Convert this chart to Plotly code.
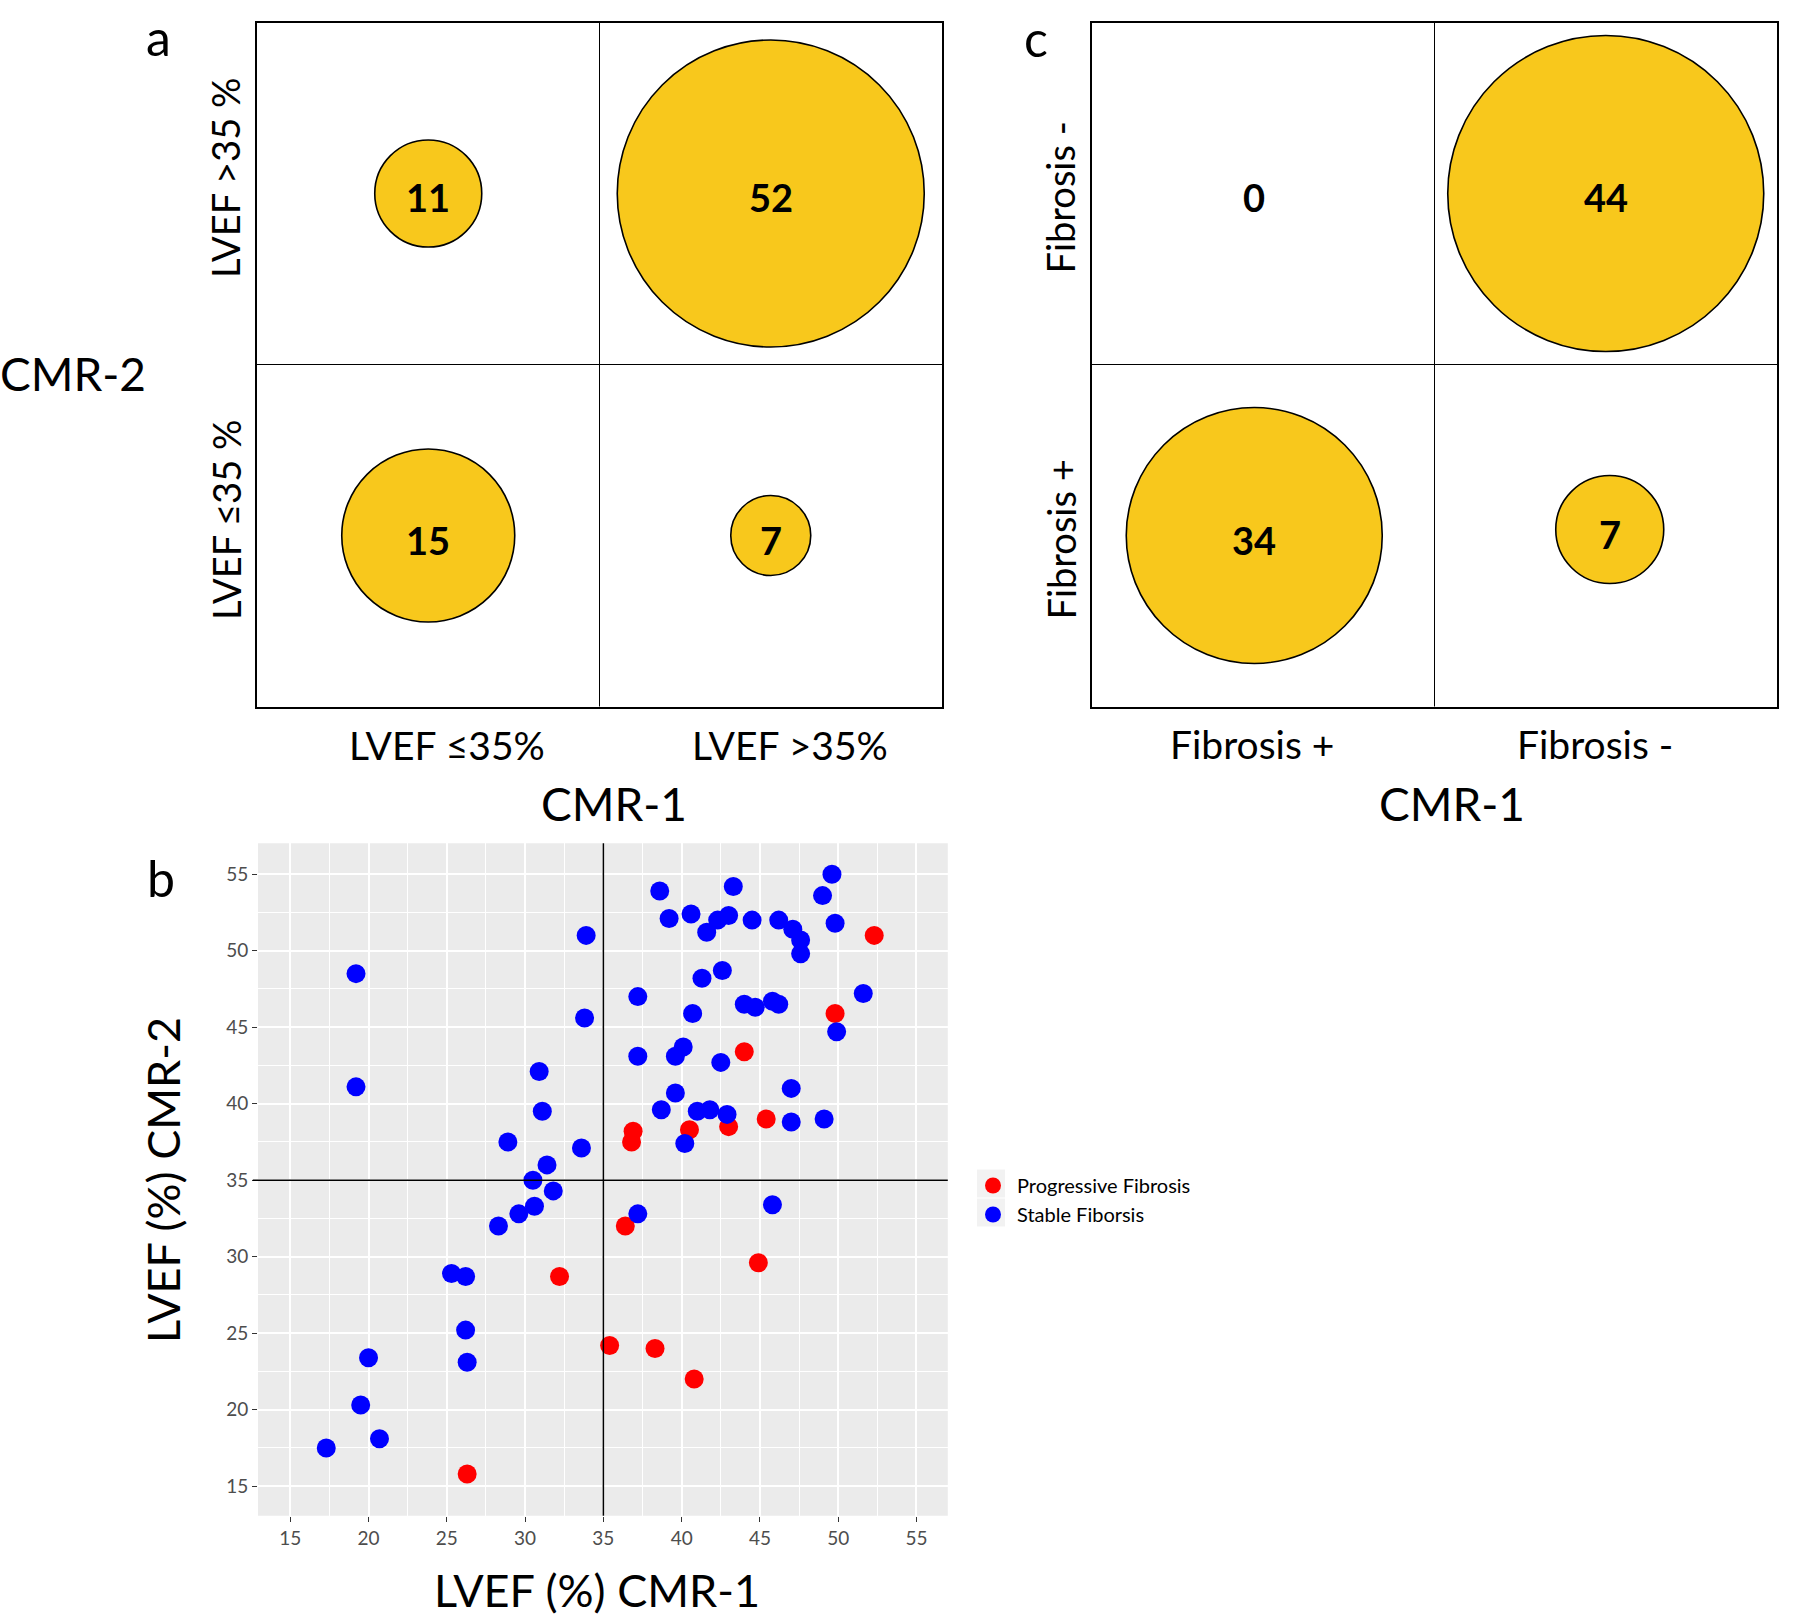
import plotly.graph_objects as go

W, H = 1800, 1617
FONT = "Lato, 'Noto Sans', sans-serif"

# ---------------- data ----------------
# Panel a: LVEF categories (CMR-1 columns, CMR-2 rows bottom->top)
a_x_labels = ["LVEF ≤35%", "LVEF >35%"]
a_y_labels = ["LVEF ≤35 %", "LVEF >35 %"]
a_counts = [[15, 7], [11, 52]]

# Panel c: fibrosis categories
c_x_labels = ["Fibrosis +", "Fibrosis -"]
c_y_labels = ["Fibrosis +", "Fibrosis -"]
c_counts = [[34, 7], [0, 44]]

# Panel b: LVEF (%) CMR-1 vs CMR-2
prog_name = "Progressive Fibrosis"
prog_x = [52.3, 49.8, 44.0, 45.4, 43.0, 40.5, 36.9, 36.8, 36.4, 32.2, 44.9, 35.4, 38.3, 40.8, 26.3]
prog_y = [51.0, 45.9, 43.4, 39.0, 38.5, 38.3, 38.2, 37.5, 32.0, 28.7, 29.6, 24.2, 24.0, 22.0, 15.8]

stab_name = "Stable Fiborsis"
stab_x = [49.6, 38.6, 43.3, 49.0, 39.2, 40.6, 42.3, 43.0, 44.5, 46.2, 47.1, 47.6, 47.6, 49.8,
          41.6, 33.9, 19.2, 42.6, 41.3, 37.2, 51.6, 44.0, 44.7, 45.8, 46.2, 40.7, 33.8, 49.9,
          40.1, 39.6, 37.2, 42.5, 30.9, 19.2, 39.6, 47.0, 38.7, 41.0, 41.8, 42.9, 31.1, 47.0,
          49.1, 28.9, 40.2, 33.6, 31.4, 30.5, 31.8, 30.6, 29.6, 28.3, 37.2, 45.8, 25.3, 26.2,
          26.2, 26.3, 20.0, 19.5, 20.7, 17.3]
stab_y = [55.0, 53.9, 54.2, 53.6, 52.1, 52.4, 52.0, 52.3, 52.0, 52.0, 51.4, 50.7, 49.8, 51.8,
          51.2, 51.0, 48.5, 48.7, 48.2, 47.0, 47.2, 46.5, 46.3, 46.7, 46.5, 45.9, 45.6, 44.7,
          43.7, 43.1, 43.1, 42.7, 42.1, 41.1, 40.7, 41.0, 39.6, 39.5, 39.6, 39.3, 39.5, 38.8,
          39.0, 37.5, 37.4, 37.1, 36.0, 35.0, 34.3, 33.3, 32.8, 32.0, 32.8, 33.4, 28.9, 28.7,
          25.2, 23.1, 23.4, 20.3, 18.1, 17.5]

threshold = 35
b_ticks = [15, 20, 25, 30, 35, 40, 45, 50, 55]

# ---------------- style ----------------
GOLD = "#F8C81C"
BOX_PX = 685.0                      # width of a quadrant panel in pixels (2 data units)
a_diam_px = [[173, 80], [107, 307]]
c_diam_px = [[256, 108], [0, 316]]
a_xshift_px = [[0, 0], [0, 0]]
c_xshift_px = [[-9, 4], [-9, 0]]
a_yshift_px = [[0, 0], [0, 0]]
c_yshift_px = [[0, -6], [0, 0]]


def px(x):
    return x / W


def py(y):
    return 1 - y / H


fig = go.Figure()
ann = []


def add_text(text, x, y, size, xref="paper", yref="paper", angle=0, xshift=0, yshift=0, bold=False):
    ann.append(dict(text=text, x=x, y=y, xref=xref, yref=yref, showarrow=False,
                    font=dict(family=FONT, size=size, color="black",
                              weight="bold" if bold else "normal"),
                    textangle=angle, xanchor="center", yanchor="middle",
                    xshift=xshift, yshift=yshift))


def bubble_panel(xa, ya, counts, diam, xsh, ysh):
    xs, ys, sz, lw = [], [], [], []
    u = 2.0 / BOX_PX
    for r, row in enumerate(counts):
        for c, n in enumerate(row):
            x = c + xsh[r][c] * u
            y = r - ysh[r][c] * u
            xs.append(x)
            ys.append(y)
            sz.append(diam[r][c])
            lw.append(1.6 if n > 0 else 0)
            add_text(str(n), x, y, 38, xref=xa, yref=ya, yshift=-4, bold=True)
    fig.add_trace(go.Scatter(
        x=xs, y=ys, mode="markers",
        marker=dict(size=sz, color=GOLD, opacity=1, line=dict(color="black", width=lw)),
        xaxis=xa, yaxis=ya, showlegend=False, hoverinfo="skip", cliponaxis=False))


bubble_panel("x", "y", a_counts, a_diam_px, a_xshift_px, a_yshift_px)
bubble_panel("x2", "y2", c_counts, c_diam_px, c_xshift_px, c_yshift_px)

fig.add_trace(go.Scatter(x=prog_x, y=prog_y, mode="markers", name=prog_name,
                         marker=dict(size=19, color="#FF0000", line=dict(width=0)),
                         xaxis="x3", yaxis="y3"))
fig.add_trace(go.Scatter(x=stab_x, y=stab_y, mode="markers", name=stab_name,
                         marker=dict(size=19, color="#0000FF", line=dict(width=0)),
                         xaxis="x3", yaxis="y3"))

box_axis = dict(range=[-0.5, 1.5], showgrid=False, zeroline=False, showticklabels=False,
                ticks="", showline=True, linecolor="black", linewidth=2, mirror=True, fixedrange=True)

ydom_top = [py(706.5), py(22.5)]
fig.update_layout(
    xaxis=dict(domain=[px(257), px(942)], anchor="y", **box_axis),
    yaxis=dict(domain=ydom_top, anchor="x", **box_axis),
    xaxis2=dict(domain=[px(1092), px(1777)], anchor="y2", **box_axis),
    yaxis2=dict(domain=ydom_top, anchor="x2", **box_axis),
    xaxis3=dict(domain=[px(258), px(947.8)], anchor="y3", range=[12.94, 57.0],
                tickvals=b_ticks, ticks="outside", ticklen=5, tickwidth=1.3, tickcolor="#333333",
                tickfont=dict(family=FONT, size=19, color="#4D4D4D"),
                showgrid=True, gridcolor="white", gridwidth=1.6, zeroline=False, showline=False,
                minor=dict(dtick=2.5, tick0=0, showgrid=True, gridcolor="white", gridwidth=0.8, ticks="")),
    yaxis3=dict(domain=[py(1515.7), py(843.3)], anchor="x3", range=[13.07, 57.02],
                tickvals=b_ticks, ticks="outside", ticklen=5, tickwidth=1.3, tickcolor="#333333",
                tickfont=dict(family=FONT, size=19, color="#4D4D4D"),
                showgrid=True, gridcolor="white", gridwidth=1.6, zeroline=False, showline=False,
                minor=dict(dtick=2.5, tick0=0, showgrid=True, gridcolor="white", gridwidth=0.8, ticks="")),
    width=W, height=H, margin=dict(l=0, r=0, t=0, b=0),
    paper_bgcolor="white", plot_bgcolor="white",
    font=dict(family=FONT, color="black"),
    legend=dict(x=px(969), y=py(1166), xanchor="left", yanchor="top",
                font=dict(family=FONT, size=20, color="black"), bgcolor="rgba(0,0,0,0)",
                itemsizing="trace", itemwidth=38),
)

shapes = []
# panel b gray background
shapes.append(dict(type="rect", xref="x3 domain", yref="y3 domain", x0=0, x1=1, y0=0, y1=1,
                   fillcolor="#EBEBEB", line=dict(width=0), layer="below"))
# legend key backgrounds
for yc in (1183.5, 1212.5):
    shapes.append(dict(type="rect", xref="paper", yref="paper", x0=px(977), x1=px(1005),
                       y0=py(yc + 14), y1=py(yc - 14), fillcolor="#F2F2F2",
                       line=dict(width=0), layer="below"))
# threshold lines in panel b
shapes.append(dict(type="line", xref="x3", yref="y3 domain", x0=threshold, x1=threshold, y0=0, y1=1,
                   line=dict(color="black", width=1.5), layer="above"))
shapes.append(dict(type="line", xref="x3 domain", yref="y3", x0=-0.0075, x1=1, y0=threshold, y1=threshold,
                   line=dict(color="black", width=1.5), layer="above"))
# quadrant dividers in panels a and c
for xa, ya in (("x", "y"), ("x2", "y2")):
    shapes.append(dict(type="line", xref=xa, yref=f"{ya} domain", x0=0.5, x1=0.5, y0=0, y1=1,
                       line=dict(color="black", width=1), layer="below"))
    shapes.append(dict(type="line", xref=f"{xa} domain", yref=ya, x0=0, x1=1, y0=0.5, y1=0.5,
                       line=dict(color="black", width=1), layer="below"))
fig.update_layout(shapes=shapes)

# panel letters
add_text("a", px(158), py(37), 50)
add_text("c", px(1036), py(37.5), 50)
add_text("b", px(160.5), py(878), 50)

# panel a labels
for i, lab in enumerate(a_x_labels):
    add_text(lab, i, py(745), 39, xref="x", xshift=19)
for j, lab in enumerate(a_y_labels):
    add_text(lab, px(225.6), j, 38, yref="y", angle=-90, yshift=16)
add_text("CMR-1", px(614), py(803), 46)
add_text("CMR-2", px(73), py(373), 46)

# panel c labels
for i, lab in enumerate(c_x_labels):
    add_text(lab, i, py(744), 39, xref="x2", xshift=-11)
for j, lab in enumerate(c_y_labels):
    add_text(lab, px(1060), j, 38, yref="y2", angle=-90, yshift=-4)
add_text("CMR-1", px(1451.5), py(803), 46)

# panel b axis titles
add_text("LVEF (%) CMR-1", px(597), py(1590), 45)
add_text("LVEF (%) CMR-2", px(162.5), py(1180.5), 45, angle=-90)

fig.update_layout(annotations=ann)

fig.write_html("out.html", config={"displayModeBar": False},
               post_script="document.body.style.margin='0';document.body.style.overflow='hidden';")
